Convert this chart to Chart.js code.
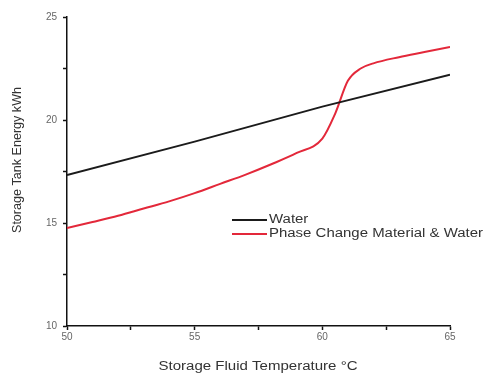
<!DOCTYPE html>
<html>
<head>
<meta charset="utf-8">
<script src="https://cdn.jsdelivr.net/npm/chart.js@4"></script>
<style>
  html, body { margin: 0; padding: 0; background: #fff; }
  #wrap { width: 485px; height: 378px; position: relative; }
</style>
</head>
<body>
<div id="wrap"><canvas id="chart"></canvas></div>
<script>
/* ---- Data ---- */

const waterTemps = [50, 55, 60, 65];
const waterEnergy = [17.33, 18.95, 20.65, 22.2];

const pcmTemps = [50, 51, 52, 53, 54, 55, 56, 57, 58, 59, 60, 60.5, 61, 61.5, 62, 63, 64, 65];
const pcmEnergy = [14.76, 15.05, 15.35, 15.7, 16.05, 16.45, 16.9, 17.35, 17.85, 18.4, 19.1, 20.3, 21.9, 22.5, 22.75, 23.05, 23.3, 23.55];

const xTicks = [50, 52.5, 55, 57.5, 60, 62.5, 65];
const yTicks = [10, 12.5, 15, 17.5, 20, 22.5, 25];

const seriesNames = ["Water", "Phase Change Material & Water"];
const seriesColors = ["#1b1b1b", "#e3283a"];

const xTitle = "Storage Fluid Temperature \u00B0C";
const yTitle = "Storage Tank Energy kWh";

/* ---- Helpers ---- */

const toPoints = (xs, ys) => xs.map((x, i) => ({ x, y: ys[i] }));
const majorOnly = (v) => (v % 5 === 0 ? String(v) : "");
const tickFont = { family: "'Liberation Sans', Arial, sans-serif", size: 10 };
const textFont = "12px 'Liberation Sans', Arial, sans-serif";

// the reference text is horizontally stretched, so scale it to a measured width
const drawFitted = (ctx, text, x, y, width, angle, align) => {
  ctx.save();
  ctx.font = textFont;
  ctx.fillStyle = "#333";
  ctx.textAlign = align;
  ctx.textBaseline = "middle";
  const sx = width / ctx.measureText(text).width;
  ctx.translate(x, y);
  ctx.rotate(angle);
  ctx.scale(sx, 1);
  ctx.fillText(text, 0, 0);
  ctx.restore();
};

/* ---- Titles + inline legend ---- */

const annotations = {
  id: "annotations",
  afterDraw(chart) {
    const ctx = chart.ctx;
    drawFitted(ctx, xTitle, 258, 367, 199, 0, "center");
    drawFitted(ctx, yTitle, 18, 160, 146, -Math.PI / 2, "center");

    // second entry sets the stretch (216px wide in the reference)
    ctx.save();
    ctx.font = textFont;
    const sx = 214 / ctx.measureText(seriesNames[1]).width;
    ctx.restore();

    seriesNames.forEach((name, i) => {
      const y = 220 + i * 14;
      ctx.save();
      ctx.strokeStyle = seriesColors[i];
      ctx.lineWidth = 2;
      ctx.beginPath();
      ctx.moveTo(232, y);
      ctx.lineTo(267, y);
      ctx.stroke();
      ctx.font = textFont;
      ctx.fillStyle = "#333";
      ctx.textBaseline = "middle";
      ctx.translate(269, y);
      ctx.scale(sx, 1);
      ctx.fillText(name, 0, 0);
      ctx.restore();
    });
  },
};

/* ---- Chart ---- */

const axisCommon = (ticks) => ({
  type: "linear",
  afterBuildTicks: (scale) => {
    scale.ticks = ticks.map((value) => ({ value }));
  },
  grid: {
    display: true,
    drawOnChartArea: false,
    drawTicks: true,
    tickLength: 4,
    tickColor: "#111",
    tickWidth: 1.5,
  },
  border: { display: true, color: "#111", width: 1.5 },
});

new Chart(document.getElementById("chart"), {
  type: "line",
  data: {
    datasets: [
      {
        label: seriesNames[0],
        data: toPoints(waterTemps, waterEnergy),
        borderColor: seriesColors[0],
        borderWidth: 2,
        pointRadius: 0,
        tension: 0,
      },
      {
        label: seriesNames[1],
        data: toPoints(pcmTemps, pcmEnergy),
        borderColor: seriesColors[1],
        borderWidth: 2,
        pointRadius: 0,
        cubicInterpolationMode: "monotone",
      },
    ],
  },
  options: {
    responsive: true,
    maintainAspectRatio: false,
    animation: false,
    layout: { padding: { top: 17, right: 35, left: 0, bottom: 0 } },
    plugins: {
      legend: { display: false },
      tooltip: { enabled: false },
    },
    scales: {
      x: {
        ...axisCommon(xTicks),
        min: 50,
        max: 65,
        afterFit: (scale) => { scale.height = 52; },
        ticks: { callback: majorOnly, color: "#666", font: tickFont, padding: 1, maxRotation: 0, autoSkip: false },
      },
      y: {
        ...axisCommon(yTicks),
        min: 10,
        max: 25,
        afterFit: (scale) => { scale.width = 67; },
        ticks: { callback: majorOnly, color: "#666", font: tickFont, padding: 6, autoSkip: false },
      },
    },
  },
  plugins: [annotations],
});
</script>
</body>
</html>
